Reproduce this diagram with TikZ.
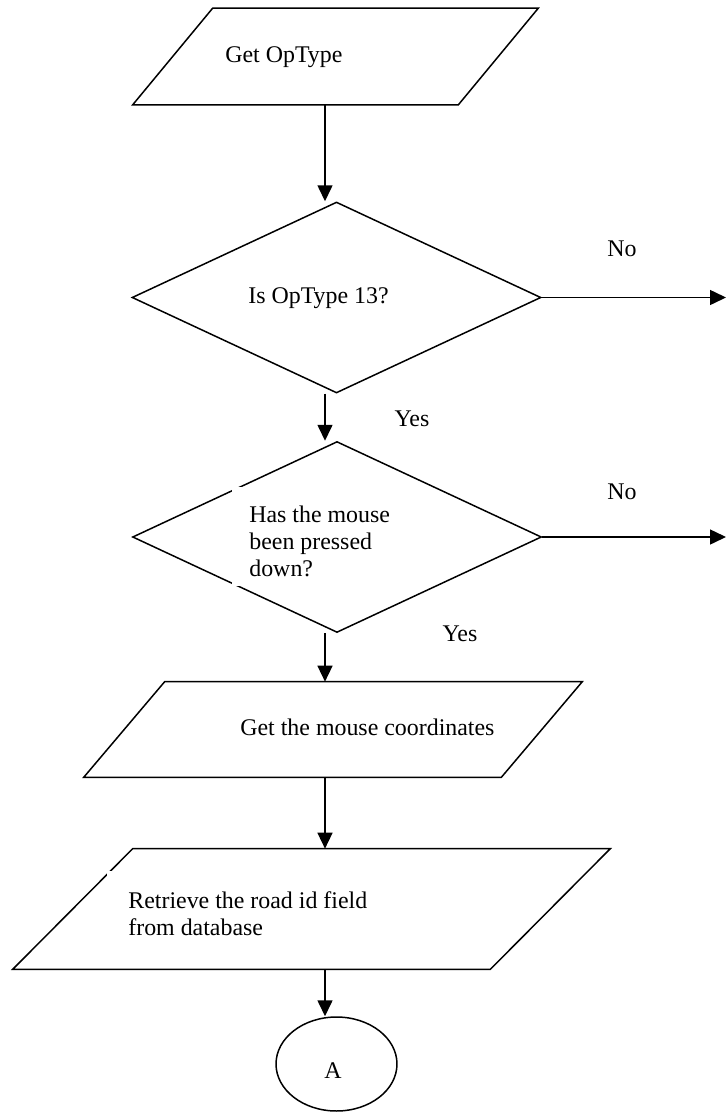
\documentclass[tikz,border=0pt]{standalone}
\usepackage{fontspec}
\setmainfont{Liberation Serif}
\usetikzlibrary{arrows.meta,calc,shapes.geometric}
\def\ioframe(#1)(#2){\draw[flow] ($(#1.south west)+(-#2,0)$) -- ($(#1.north west)+(#2,0)$) -- ($(#1.north east)+(#2,0)$) -- ($(#1.south east)+(-#2,0)$) -- cycle;}

\tikzset{
	flow/.style={draw, line width=0.85pt, inner sep=0pt},
	decision/.style={flow, diamond, minimum width=8.18cm, minimum height=3.82cm},
	io/.style={rectangle, inner sep=0pt},
	conn/.style={flow, ellipse, minimum width=2.42cm, minimum height=1.88cm},
	patch/.style={fill=white, inner sep=0pt, anchor=north west},
	txt/.style={inner sep=0pt, anchor=base west, font=\fontsize{13.6}{15.3}\selectfont},
	lines/.style={txt, anchor=north west, align=left},
	arrow/.style={line width=0.85pt, -{Triangle[length=3.2mm, width=3mm]}}
}

\begin{document}
\begin{tikzpicture}[x=0.02cm, y=-0.02cm]
	%%%%% START %%%%%
	\useasboundingbox (0,0) rectangle (726,1112);
	
	\node[io, minimum width=6.5cm, minimum height=1.92cm] (optype) at (335.5,56.5) {};
	\ioframe(optype)(40);
	\node[decision] (is13) at (336.5,297.5) {};
	\node[decision] (pressed) at (337,537) {};
	\node[io, minimum width=8.34cm, minimum height=1.9cm] (coords) at (333,729.5) {};
	\ioframe(coords)(40.5);
	\node[io, minimum width=9.54cm, minimum height=2.4cm] (roadid) at (311.5,909) {};
	\ioframe(roadid)(60);
	\node[conn] (pageA) at (336.5,1064) {};
	
	% text frames
	\node[patch, minimum width=3.76cm, minimum height=1.98cm] (pressedbox) at (232,487) {};
	\node[patch, minimum width=5.9cm, minimum height=1.5cm] (roadbox) at (107,871) {};
	
	\node[txt] (optypetxt) at (225,62) {Get OpType};
	\node[txt] (is13txt) at (248,303) {Is OpType 13?};
	\node[lines] (pressedtxt) at (249,506) {Has the mouse\\been pressed\\down?};
	\node[txt] (coordstxt) at (240,735) {Get the mouse coordinates};
	\node[lines] (roadidtxt) at (128,891) {Retrieve the road id field\\from database};
	\node[txt, anchor=base] (pageAtxt) at (333,1078) {A};
	
	\node[txt, anchor=base] (no1) at (622,256) {No};
	\node[txt, anchor=base] (yes1) at (412,426) {Yes};
	\node[txt, anchor=base] (no2) at (622,499) {No};
	\node[txt, anchor=base] (yes2) at (460,641) {Yes};
	
	\coordinate (spine) at (325,0);
	\coordinate (exit1) at (726,297.5);
	\coordinate (exit2) at (726,537);
	
	\draw[arrow] (optype.south -| spine) -- (is13.north -| spine);
	\draw[arrow] (is13.east) -- (exit1);
	\draw[arrow] (is13.south -| spine) -- (pressed.north -| spine);
	\draw[arrow] (pressed.east) -- (exit2);
	\draw[arrow] (pressed.south -| spine) -- (coords.north -| spine);
	\draw[arrow] (coords.south -| spine) -- (roadid.north -| spine);
	\draw[arrow] (roadid.south -| spine) -- (pageA.north -| spine);
	
	%%%%% END %%%%%
\end{tikzpicture}
\end{document}
